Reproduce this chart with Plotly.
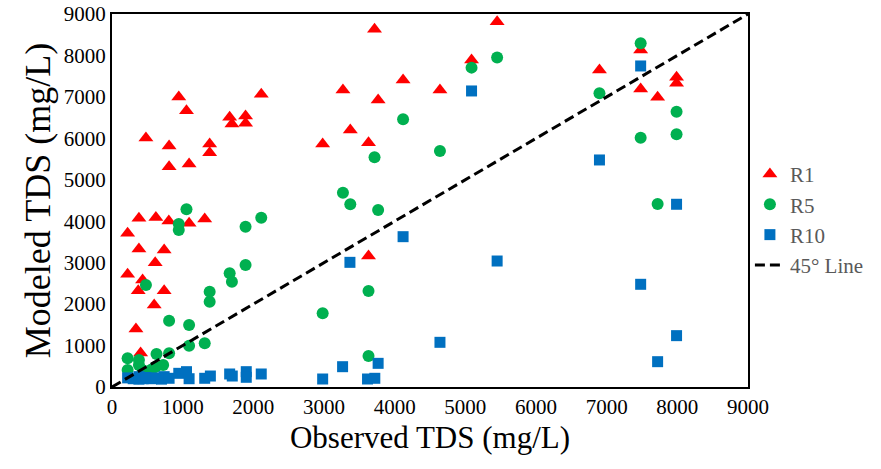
import plotly.graph_objects as go

# R1 series (observed, modeled)
r1_obs = [221, 221, 381, 381, 371, 339, 405, 433, 480, 621, 611, 597, 738, 738, 804, 808, 808,
          945, 1054, 1091, 1091, 1312, 1382, 1382, 1665, 1697, 1890, 1890, 2112, 2981, 3268,
          3372, 3630, 3630, 3715, 3766, 4119, 4641, 5088, 5450, 6898, 7481, 7481, 7721, 7989, 7989]
r1_mod = [3708, 2720, 4070, 3330, 2320, 1400, 820, 2582, 6008, 4090, 3000, 1979, 3306, 2320, 4005, 5815, 5316,
          7000, 6667, 5381, 3950, 4054, 5864, 5654, 6508, 6346, 6539, 6363, 7063, 5864, 7167,
          6200, 5896, 3161, 8630, 6925, 7408, 7167, 7890, 8815, 7650, 8132, 7191, 6990, 7473, 7328]

# R5 series
r5_obs = [221, 221, 381, 381, 442, 480, 560, 630, 621, 724, 808, 808, 945, 945, 1054, 1091, 1091,
          1312, 1382, 1382, 1665, 1697, 1890, 1890, 2112, 2981, 3268, 3372, 3630, 3630, 3715,
          3766, 4119, 4641, 5088, 5450, 6898, 7481, 7481, 7721, 7989, 7989]
r5_mod = [692, 410, 652, 531, 400, 2461, 420, 796, 490, 531, 813, 1600, 3933, 3788, 4288, 1496, 997,
          1054, 2300, 2059, 2743, 2541, 3869, 2944, 4086, 1778, 4689, 4409, 2316, 748, 5542,
          4271, 6459, 5695, 7706, 7953, 7087, 8293, 6016, 4416, 6644, 6096]

# R10 series
r10_obs = [221, 300, 381, 381, 442, 480, 560, 621, 700, 738, 808, 945, 1054, 1091, 1312, 1392, 1665,
           1702, 1900, 1900, 2112, 2981, 3263, 3367, 3616, 3719, 3766, 4119, 4641, 5088, 5450,
           6898, 7481, 7481, 7721, 7989, 7989]
r10_mod = [220, 200, 250, 190, 200, 230, 200, 220, 190, 250, 210, 330, 370, 200, 210, 265, 314,
           265, 370, 234, 314, 193, 490, 3008, 193, 210, 571, 3627, 1078, 7143, 3040,
           5478, 7746, 2478, 611, 4409, 1239]

# 45-degree reference line
line_x = [0, 9000]
line_y = [0, 9000]

tick_vals = [0, 1000, 2000, 3000, 4000, 5000, 6000, 7000, 8000, 9000]
tick_text = [str(v) for v in tick_vals]

FONT = "Liberation Serif, Times New Roman, serif"

fig = go.Figure()
fig.add_trace(go.Scatter(x=r1_obs, y=r1_mod, mode="markers", name="R1",
                         marker=dict(symbol="triangle-up", size=13, color="#FF0000")))
fig.add_trace(go.Scatter(x=r5_obs, y=r5_mod, mode="markers", name="R5",
                         marker=dict(symbol="circle", size=12, color="#00B050")))
fig.add_trace(go.Scatter(x=r10_obs, y=r10_mod, mode="markers", name="R10",
                         marker=dict(symbol="square", size=11, color="#0070C0")))
fig.add_trace(go.Scatter(x=line_x, y=line_y, mode="lines", name="45° Line",
                         line=dict(color="black", width=3, dash="10px,5px")))

fig.update_layout(
    width=881, height=469,
    margin=dict(l=112, r=131, t=14, b=82),
    paper_bgcolor="white", plot_bgcolor="white",
    font=dict(family=FONT, color="black"),
    showlegend=True,
    legend=dict(x=1.003, y=0.625, xanchor="left", yanchor="top",
                font=dict(family=FONT, size=21, color="#595959"),
                tracegroupgap=0, itemwidth=30, bgcolor="rgba(0,0,0,0)"),
    xaxis=dict(range=[0, 9000], tickvals=tick_vals, ticktext=tick_text,
               showgrid=False, zeroline=False, showline=True, linecolor="black",
               linewidth=2, mirror=True, ticks="",
               tickfont=dict(family=FONT, size=21, color="black"),
               title=dict(text="Observed TDS (mg/L)", font=dict(family=FONT, size=31, color="black"),
                          standoff=8),
               automargin=False),
    yaxis=dict(range=[0, 9000], tickvals=tick_vals, ticktext=tick_text,
               showgrid=False, zeroline=False, showline=True, linecolor="black",
               linewidth=2, mirror=True, ticks="",
               tickfont=dict(family=FONT, size=21, color="black"),
               title=dict(text="Modeled TDS (mg/L)", font=dict(family=FONT, size=36, color="black"),
                          standoff=2),
               automargin=False),
)

fig.write_html("out.html")
